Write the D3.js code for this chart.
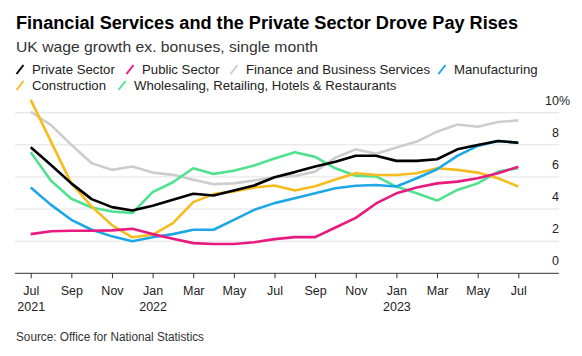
<!DOCTYPE html>
<html>
<head>
<meta charset="utf-8">
<script src="https://cdn.jsdelivr.net/npm/d3@7"></script>
<style>
  html, body { margin: 0; padding: 0; background: #fff; }
  svg { display: block; font-family: "Liberation Sans", Arial, Helvetica, sans-serif; }
</style>
</head>
<body>
<svg id="chart" width="582" height="356"></svg>
<script>
// ---- data ----
const months = ["2021-07","2021-08","2021-09","2021-10","2021-11","2021-12",
  "2022-01","2022-02","2022-03","2022-04","2022-05","2022-06",
  "2022-07","2022-08","2022-09","2022-10","2022-11","2022-12",
  "2023-01","2023-02","2023-03","2023-04","2023-05","2023-06","2023-07"];

const privateSector = [7.85,6.75,5.6,4.62,4.12,3.91,4.2,4.58,4.95,4.84,5.16,5.47,5.98,6.3,6.65,6.95,7.32,7.32,7.0,7.0,7.1,7.72,7.99,8.24,8.13];
const publicSector  = [2.44,2.62,2.65,2.65,2.67,2.77,2.44,2.15,1.88,1.82,1.82,1.93,2.13,2.25,2.25,2.85,3.45,4.35,4.98,5.34,5.6,5.71,5.92,6.23,6.64];
const financeBusiness = [10.06,9.23,8.0,6.85,6.44,6.65,6.27,6.13,5.82,5.55,5.6,5.78,5.98,6.06,6.33,7.2,7.72,7.45,7.84,8.2,8.82,9.27,9.13,9.42,9.52];
const manufacturing = [5.34,4.26,3.33,2.71,2.3,1.99,2.24,2.44,2.71,2.71,3.33,3.95,4.37,4.68,4.99,5.3,5.45,5.5,5.4,5.92,6.48,7.31,7.93,8.24,8.13];
const construction  = [10.8,8.2,5.6,4.16,3.0,2.24,2.4,3.13,4.43,4.93,5.1,5.34,5.47,5.15,5.42,5.84,6.23,6.12,6.12,6.23,6.54,6.44,6.27,5.92,5.4];
const wholesaleRetail = [7.54,5.76,4.64,4.1,3.85,3.75,5.05,5.67,6.54,6.19,6.38,6.71,7.15,7.54,7.25,6.54,6.08,6.03,5.4,4.98,4.53,5.19,5.6,6.33,6.55];

const seriesNames = ["Private Sector","Public Sector","Finance and Business Services","Manufacturing","Construction","Wholesaling, Retailing, Hotels & Restaurants"];
const seriesValues = [privateSector, publicSector, financeBusiness, manufacturing, construction, wholesaleRetail];
const seriesColors = ["#000000","#e8197f","#cdcdcd","#1ea7e6","#f6bb1c","#4fe28e"];

const tickMonthLabels = ["Jul","Sep","Nov","Jan","Mar","May","Jul","Sep","Nov","Jan","Mar","May","Jul"];
const tickYearLabels  = ["2021","","","2022","","","","","","2023","","",""];
const yTicks = [0,2,4,6,8,10];
const yTickLabels = ["0","2","4","6","8","10%"];

// ---- layout ----
const svg = d3.select("#chart");
const x = d3.scalePoint().domain(months).range([30.7, 518.3]);
const y = d3.scaleLinear().domain([0, 10]).range([273.3, 112.7]);
const gridLeft = 15, gridRight = 559;

// title
svg.append("text").attr("x", 16).attr("y", 29.3)
  .attr("font-size", 18).attr("font-weight", "bold").attr("fill", "#000")
  .attr("textLength", 502).attr("lengthAdjust", "spacingAndGlyphs")
  .text("Financial Services and the Private Sector Drove Pay Rises");
svg.append("text").attr("x", 16).attr("y", 52.3)
  .attr("font-size", 14.5).attr("fill", "#333")
  .attr("textLength", 302).attr("lengthAdjust", "spacingAndGlyphs")
  .text("UK wage growth ex. bonuses, single month");

// legend
const legendPos = [[32,74],[142,74],[246,74],[454,74],[32,90],[134,90]];
const lg = svg.append("g");
seriesNames.forEach((name, i) => {
  const [tx, ty] = legendPos[i];
  lg.append("line").attr("x1", tx - 15.5).attr("y1", ty).attr("x2", tx - 8.5).attr("y2", ty - 9)
    .attr("stroke", seriesColors[i]).attr("stroke-width", 2);
  lg.append("text").attr("x", tx).attr("y", ty).attr("font-size", 13.2).attr("fill", "#222").text(name);
});

// grid
svg.append("g").selectAll("line").data(yTicks.filter(d => d > 0)).join("line")
  .attr("x1", gridLeft).attr("x2", gridRight)
  .attr("y1", d => y(d)).attr("y2", d => y(d))
  .attr("stroke", "#e2e2e2").attr("stroke-width", 1);

// y labels
svg.append("g").selectAll("text").data(yTicks).join("text")
  .attr("x", 559).attr("y", d => y(d) - 8)
  .attr("font-size", 12.5).attr("fill", "#222")
  .each(function(d, i) {
    const t = d3.select(this);
    const lbl = yTickLabels[i];
    if (lbl.endsWith("%")) {
      t.attr("text-anchor", "start");
      t.text(lbl);
      const numW = 0; // placeholder
    } else {
      t.attr("text-anchor", "end").text(lbl);
    }
  });
// position the % label so digits right-align with others
svg.selectAll("g text").filter(function() { return this.textContent.endsWith("%"); })
  .each(function() {
    const t = d3.select(this);
    const tmp = svg.append("text").attr("font-size", 12.5).text(this.textContent.replace("%", ""));
    const w = tmp.node().getComputedTextLength();
    tmp.remove();
    t.attr("x", 559 - w);
  });

// x axis
const tickVals = months.filter((d, i) => i % 2 === 0);
const xAxis = d3.axisBottom(x).tickValues(tickVals).tickSize(5).tickSizeOuter(0).tickFormat("");
const ax = svg.append("g").attr("transform", `translate(0,${y(0)})`).call(xAxis);
ax.select(".domain").remove();
ax.selectAll(".tick line").attr("stroke", "#333");
svg.append("line").attr("x1", gridLeft).attr("x2", gridRight).attr("y1", y(0)).attr("y2", y(0))
  .attr("stroke", "#333").attr("stroke-width", 1);
ax.selectAll(".tick").each(function(d, i) {
  const g = d3.select(this);
  g.append("text").attr("y", 21.7).attr("text-anchor", "middle").attr("font-size", 12.5)
    .attr("fill", "#222").text(tickMonthLabels[i]);
  if (tickYearLabels[i]) {
    g.append("text").attr("y", 37.7).attr("text-anchor", "middle").attr("font-size", 12.5)
      .attr("fill", "#222").text(tickYearLabels[i]);
  }
});

// lines
const line = d3.line().x((d, i) => x(months[i])).y(d => y(d));
const drawOrder = [2, 5, 4, 3, 1, 0];
svg.append("g").selectAll("path").data(drawOrder).join("path")
  .attr("d", i => line(seriesValues[i]))
  .attr("fill", "none").attr("stroke", i => seriesColors[i])
  .attr("stroke-width", 2.6).attr("stroke-linejoin", "round").attr("stroke-linecap", "butt");

// source
svg.append("text").attr("x", 16).attr("y", 340.5).attr("font-size", 12).attr("fill", "#333")
  .attr("textLength", 188).attr("lengthAdjust", "spacingAndGlyphs")
  .text("Source: Office for National Statistics");
</script>
</body>
</html>
